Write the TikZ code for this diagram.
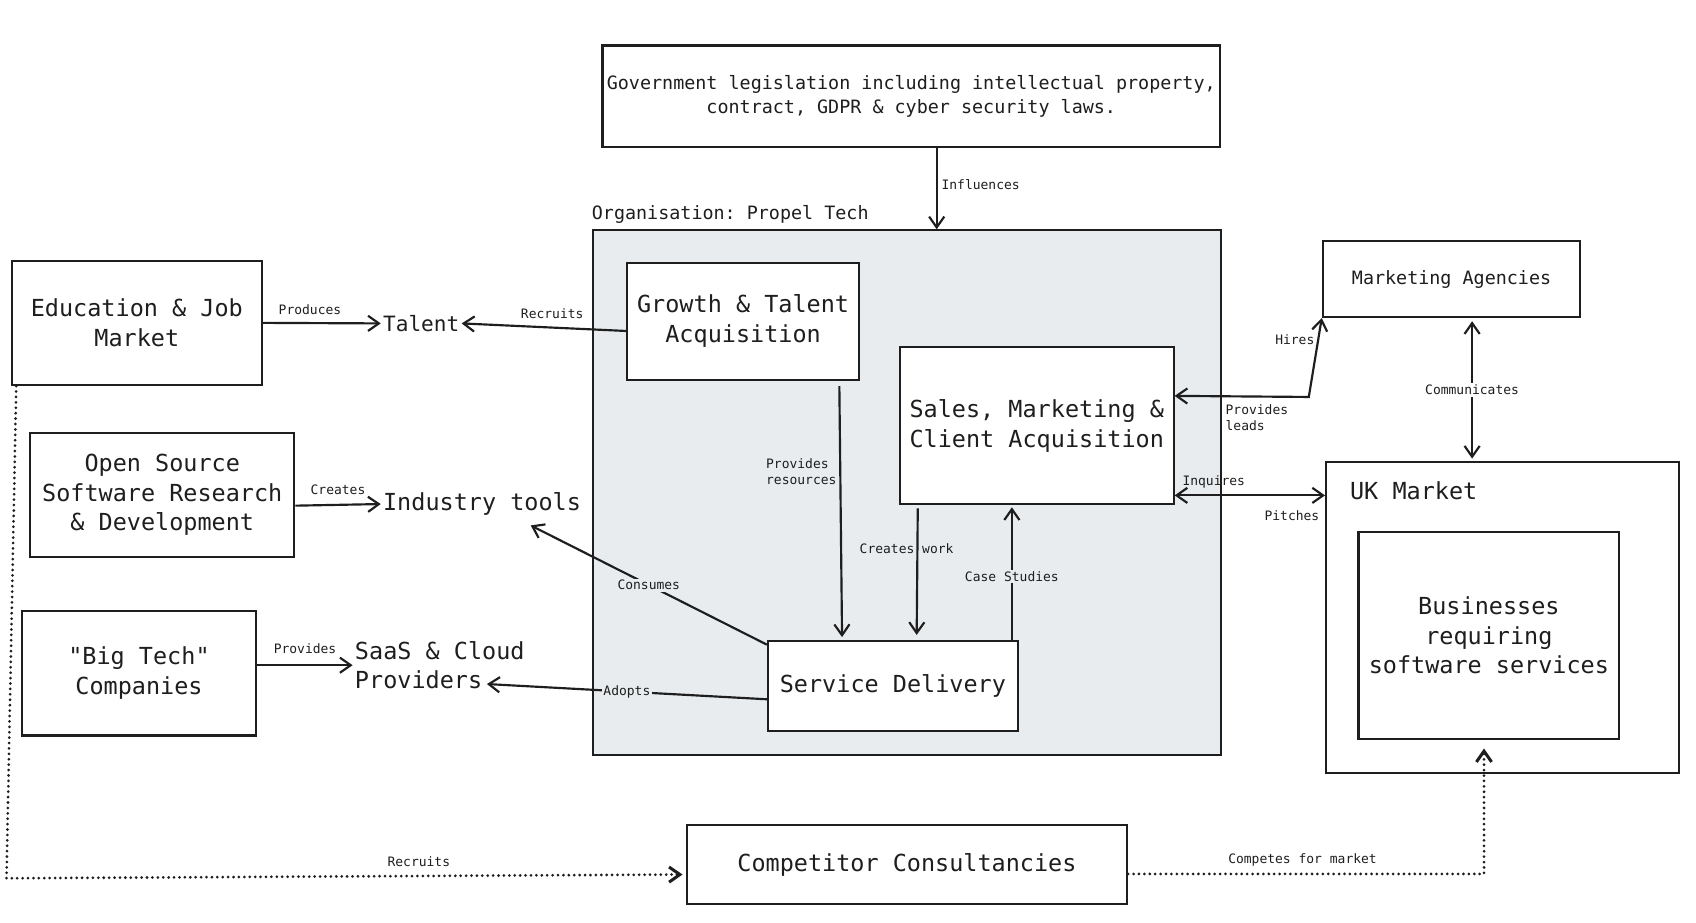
\documentclass[tikz,border=0pt]{standalone}
\usepackage{fontspec}
\setmainfont{DejaVu Sans Mono}
\usetikzlibrary{arrows.meta}

\definecolor{inkgrey}{HTML}{1E1E1E}
\definecolor{orggrey}{HTML}{E9ECEF}

\newcommand{\bigtxt}{\fontsize{21.7}{27.5}\selectfont}
\newcommand{\medtxt}{\fontsize{17}{22}\selectfont}
\newcommand{\smalltxt}{\fontsize{12}{15}\selectfont}

\tikzset{
  box/.style={draw=inkgrey, line width=2pt, fill=white, inner sep=0pt, align=center, text=inkgrey, font=\bigtxt},
  plaintext/.style={inner sep=2pt, align=left, text=inkgrey, font=\bigtxt},
  edgelabel/.style={inner sep=1.5pt, text=inkgrey, font=\smalltxt},
  flow/.style={draw=inkgrey, line width=2pt, -{Straight Barb[length=10pt,width=14pt]}},
  twoway/.style={draw=inkgrey, line width=2pt, {Straight Barb[length=10pt,width=14pt]}-{Straight Barb[length=10pt,width=14pt]}},
  dottedflow/.style={draw=inkgrey, line width=2.8pt, line cap=round, dash pattern=on 0pt off 5pt, -{Straight Barb[length=10pt,width=14pt]}},
}

\frenchspacing

\begin{document}
\begin{tikzpicture}[x=1pt, y=-1pt]

    % Fix the canvas to the proportions of the image
    \useasboundingbox (0,0) rectangle (1568,853);

    % The organisation container and its title
    \node[draw=inkgrey, line width=2pt, fill=orggrey, minimum width=581pt, minimum height=485pt, inner sep=0pt] (org) at (838.5,455.5) {};
    \node[anchor=base west, inner sep=0pt, font=\medtxt, text=inkgrey] (orgtitle) at ([yshift=9pt]org.north west) {Organisation: Propel Tech};

    % Government legislation at the top
    \node[box, font=\medtxt, minimum width=571pt, minimum height=94pt] (gov) at (842.5,89) {Government legislation including intellectual property,\\contract, GDPR \& cyber security laws.};

    % Boxes inside the organisation
    \node[box, minimum width=214pt, minimum height=108pt] (grow) at (687,297) {Growth \& Talent\\Acquisition};
    \node[box, minimum width=253pt, minimum height=145pt] (sales) at (958.5,393.5) {Sales, Marketing \&\\Client Acquisition};
    \node[box, minimum width=231pt, minimum height=83pt] (sd) at (825.5,634.5) {Service Delivery};

    % Sources on the left
    \node[box, minimum width=231pt, minimum height=115pt] (edu) at (126.5,298.5) {Education \& Job\\Market};
    \node[box, minimum width=244pt, minimum height=115pt] (oss) at (150,457.5) {Open Source\\Software Research\\\& Development};
    \node[box, minimum width=217pt, minimum height=115pt] (bigtech) at (128.5,622.5) {\textquotedbl Big Tech\textquotedbl\\Companies};

    % Free standing texts between the sources and the organisation
    \node[plaintext, anchor=west, font=\fontsize{19.5}{24}\selectfont] (talent) at (352,299) {Talent};
    \node[plaintext, anchor=west] (tools) at (352,466) {Industry tools};
    \node[plaintext, anchor=west] (saas) at (326,615) {SaaS \& Cloud\\Providers};

    % Marketing agencies and the UK market on the right
    \node[box, font=\medtxt, minimum width=238pt, minimum height=70pt] (mkt) at (1342,258) {Marketing Agencies};
    \node[box, minimum width=326pt, minimum height=288pt] (uk) at (1389,571) {};
    \node[anchor=base west, inner sep=0pt, font=\bigtxt, text=inkgrey] (uktitle) at ([xshift=23pt,yshift=-36pt]uk.north west) {UK Market};
    \node[box, minimum width=241pt, minimum height=191pt] (biz) at (1376.5,587.5) {Businesses\\requiring\\software services};

    % Competitors at the bottom
    \node[box, minimum width=407pt, minimum height=73pt] (comp) at (838.5,799.5) {Competitor Consultancies};

    % Legislation influences the organisation
    \draw[flow] ([xshift=23.5pt]gov.south) -- node[edgelabel, pos=0.45, right=2pt] {Influences} ([xshift=27.5pt]org.north);

    % Left hand flows
    \draw[flow] (edu.east) -- node[edgelabel, pos=0.4, above=5pt] {Produces} (talent.west);
    \draw[flow] ([yshift=-9pt]grow.west) -- node[edgelabel, pos=0.45, above=6pt] {Recruits} (talent.east);
    \draw[flow] ([yshift=-10pt]oss.east) -- node[edgelabel, above=7pt] {Creates} (tools.west);
    \draw[flow] ([yshift=7.5pt]bigtech.east) -- node[edgelabel, above=8pt] {Provides} (saas.west);
    \draw[flow] ([yshift=-4pt]sd.north west) -- node[edgelabel, fill=orggrey] {Consumes} ([xshift=45pt,yshift=-7pt]tools.south);
    \draw[flow] ([yshift=-12pt]sd.west) -- node[edgelabel, fill=orggrey] {Adopts} ([xshift=-37pt,yshift=7pt]saas.south east);

    % Flows inside the organisation
    \draw[flow] ([xshift=89pt,yshift=-5pt]grow.south) -- node[edgelabel, pos=0.34, left=1pt, align=left] {Provides\\resources} ([xshift=-47pt,yshift=3pt]sd.north);
    \draw[flow] ([xshift=-110pt,yshift=-3pt]sales.south) -- node[edgelabel, pos=0.32, xshift=-10pt] {Creates work} ([xshift=22pt,yshift=5pt]sd.north);
    \draw[flow] ([xshift=110pt]sd.north) -- node[edgelabel, pos=0.48, fill=orggrey] {Case Studies} ([xshift=-23pt,yshift=-2pt]sales.south);

    % Two way links on the right
    \coordinate (hireturn) at (1210,367);
    \draw[twoway] ([yshift=-46pt]sales.north east) -- node[edgelabel, pos=0.36, anchor=north west, yshift=-5pt, align=left] {Provides\\leads} (hireturn) -- node[edgelabel, pos=0.72, left=1pt] {Hires} (mkt.south west);
    \draw[twoway] ([yshift=9pt]sales.south east) -- node[edgelabel, pos=0.26, above=4pt] {Inquires} node[edgelabel, pos=0.78, below=12pt] {Pitches} ([yshift=-32pt]uk.north west);
    \draw[twoway] ([xshift=19pt,yshift=-3pt]mkt.south) -- node[edgelabel, fill=white] {Communicates} ([xshift=-28pt,yshift=2pt]uk.north);

    % Dotted links of the competitors
    \coordinate (recturn) at (6,812);
    \draw[dottedflow] ([xshift=5pt]edu.south west) -- (recturn) -- node[edgelabel, pos=0.61, above=6pt] {Recruits} ([xshift=-3pt,yshift=-9pt]comp.west);
    \coordinate (competeturn) at (1372,808);
    \draw[dottedflow] ([yshift=-8.5pt]comp.east) -- node[edgelabel, pos=0.49, above=4pt] {Competes for market} (competeturn) -- ([xshift=-4.5pt,yshift=-8pt]biz.south);

\end{tikzpicture}
\end{document}
